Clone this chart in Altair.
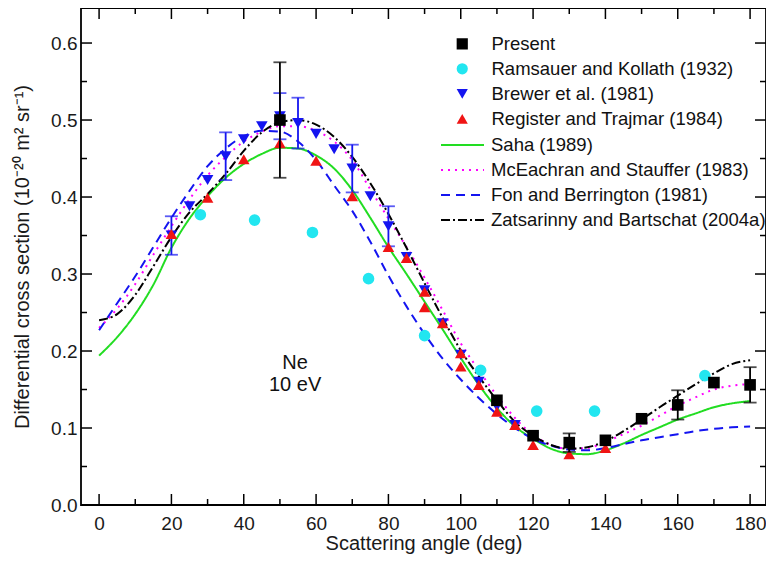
import altair as alt
import pandas as pd

# ---------------- data ----------------
curve_angles = list(range(0, 181, 5))
saha = [0.194, 0.218, 0.248, 0.286, 0.334, 0.372, 0.401, 0.425, 0.443, 0.456,
        0.464, 0.463, 0.454, 0.437, 0.409, 0.373, 0.335, 0.300, 0.264, 0.228,
        0.191, 0.156, 0.126, 0.102, 0.086, 0.073, 0.067, 0.066, 0.071, 0.080,
        0.091, 0.101, 0.111, 0.119, 0.127, 0.132, 0.135]
mceachran = [0.230, 0.255, 0.287, 0.325, 0.362, 0.397, 0.428, 0.452, 0.472, 0.485,
             0.492, 0.492, 0.486, 0.472, 0.448, 0.410, 0.372, 0.335, 0.295, 0.253,
             0.210, 0.175, 0.142, 0.113, 0.091, 0.078, 0.073, 0.074, 0.082, 0.092,
             0.103, 0.116, 0.129, 0.140, 0.150, 0.155, 0.157]
fon = [0.227, 0.262, 0.297, 0.335, 0.373, 0.408, 0.440, 0.463, 0.479, 0.486,
       0.485, 0.472, 0.448, 0.415, 0.382, 0.342, 0.298, 0.258, 0.222, 0.190,
       0.163, 0.139, 0.118, 0.100, 0.086, 0.077, 0.072, 0.071, 0.074, 0.079,
       0.084, 0.088, 0.092, 0.096, 0.099, 0.101, 0.102]
zatsarinny = [0.240, 0.248, 0.273, 0.310, 0.348, 0.380, 0.404, 0.430, 0.460, 0.484,
              0.497, 0.500, 0.494, 0.478, 0.452, 0.418, 0.378, 0.334, 0.288, 0.243,
              0.201, 0.167, 0.136, 0.108, 0.090, 0.078, 0.073, 0.075, 0.083, 0.096,
              0.111, 0.127, 0.142, 0.157, 0.171, 0.183, 0.188]

present_angle = [50, 110, 120, 130, 140, 150, 160, 170, 180]
present_dcs = [0.500, 0.136, 0.090, 0.081, 0.084, 0.112, 0.130, 0.159, 0.156]
present_err = [0.075, 0, 0, 0.012, 0, 0, 0.019, 0, 0.023]

ramsauer_angle = [28, 43, 59, 74.5, 90, 105.5, 121, 137, 167.5]
ramsauer_dcs = [0.377, 0.370, 0.354, 0.294, 0.220, 0.175, 0.122, 0.122, 0.168]

brewer_angle = [20, 25, 30, 35, 40, 45, 50, 55, 60, 65, 70, 75, 80, 85, 90,
                95, 100, 105, 110, 115, 120]
brewer_dcs = [0.350, 0.388, 0.422, 0.453, 0.475, 0.492, 0.505, 0.496, 0.482,
              0.462, 0.437, 0.401, 0.362, 0.322, 0.279, 0.236, 0.195, 0.160,
              0.128, 0.104, 0.088]
brewer_err = [0.025, 0, 0, 0.031, 0, 0, 0.030, 0.033, 0, 0, 0.031, 0, 0.026,
              0, 0, 0, 0, 0, 0, 0, 0]

register_angle = [20, 30, 40, 50, 60, 70, 80, 85, 90, 90, 95, 100, 100, 105,
                  110, 115, 120, 130, 140]
register_dcs = [0.352, 0.399, 0.449, 0.470, 0.447, 0.401, 0.335, 0.321, 0.277,
                0.257, 0.236, 0.197, 0.180, 0.156, 0.121, 0.104, 0.078, 0.066,
                0.074]

line_names = ["Saha (1989)", "McEachran and Stauffer (1983)",
              "Fon and Berrington (1981)", "Zatsarinny and Bartschat (2004a)"]
line_colors = ["#22DD22", "#FF00FF", "#1414F0", "#000000"]
line_dashes = [[1, 0], [2, 5], [9, 6], [9, 3, 2, 3]]

point_names = ["Present", "Ramsauer and Kollath (1932)", "Brewer et al. (1981)",
               "Register and Trajmar (1984)"]
point_colors = ["#000000", "#22E6F0", "#1414F0", "#F01414"]
point_shapes = ["square", "circle", "triangle-down", "triangle-up"]

label_text = ["Ne", "10 eV"]
label_angle = [54.2, 54.2]
label_dcs = [0.184, 0.156]

x_major = list(range(0, 181, 20))
x_minor = list(range(10, 171, 20))
y_major = [0.0, 0.1, 0.2, 0.3, 0.4, 0.5, 0.6]
y_minor = [0.05, 0.15, 0.25, 0.35, 0.45, 0.55]

# ---------------- tables ----------------
curves = pd.DataFrame({
    "angle": curve_angles * 4,
    "dcs": saha + mceachran + fon + zatsarinny,
    "model": sum([[n] * len(curve_angles) for n in line_names], []),
})

points = pd.concat([
    pd.DataFrame({"angle": ramsauer_angle, "dcs": ramsauer_dcs, "series": point_names[1]}),
    pd.DataFrame({"angle": brewer_angle, "dcs": brewer_dcs, "series": point_names[2]}),
    pd.DataFrame({"angle": register_angle, "dcs": register_dcs, "series": point_names[3]}),
    pd.DataFrame({"angle": present_angle, "dcs": present_dcs, "series": point_names[0]}),
], ignore_index=True)

def err_table(a, v, e):
    df = pd.DataFrame({"angle": a, "dcs": v, "err": e})
    df = df[df["err"] > 0].copy()
    df["lo"] = df["dcs"] - df["err"]
    df["hi"] = df["dcs"] + df["err"]
    return df

present_eb = err_table(present_angle, present_dcs, present_err)
brewer_eb = err_table(brewer_angle, brewer_dcs, brewer_err)
labels = pd.DataFrame({"angle": label_angle, "dcs": label_dcs, "text": label_text})

W, H = 685, 497
FONT = "Liberation Sans"

xscale = alt.Scale(domain=[-5, 184.4], nice=False, zero=False)
yscale = alt.Scale(domain=[0, 0.6455], nice=False, zero=False)
xaxis = alt.Axis(title="Scattering angle (deg)", values=x_major, format="d",
                 ticks=False, tickSize=0, domain=False, grid=False,
                 labelFlush=False, labelOverlap=False, labelPadding=9,
                 titlePadding=0)
yaxis = alt.Axis(title="Differential cross section (10\u207b\u00b2\u2070 m\u00b2 sr\u207b\u00b9)",
                 values=y_major, format=".1f", ticks=False, tickSize=0,
                 domain=False, grid=False, labelFlush=False,
                 labelOverlap=False, labelPadding=4, titlePadding=18)

def X(field):
    return alt.X(f"{field}:Q", scale=xscale, axis=xaxis)

def Y(field):
    return alt.Y(f"{field}:Q", scale=yscale, axis=yaxis)

line_legend = alt.Legend(orient="none", legendX=359, legendY=125.8, title=None,
                         padding=0, labelFontSize=18.5, labelFont=FONT,
                         labelColor="#111111", symbolType="stroke",
                         symbolSize=1849, symbolStrokeWidth=2, symbolOffset=0,
                         labelOffset=6, clipHeight=22.4, rowPadding=2,
                         labelLimit=400)
point_legend = alt.Legend(orient="none", legendX=359, legendY=24.5, title=None,
                          padding=0, labelFontSize=18.5, labelFont=FONT,
                          labelColor="#111111", symbolSize=125,
                          symbolStrokeWidth=0, symbolOffset=13, labelOffset=20,
                          clipHeight=22.6, rowPadding=2, labelLimit=400)

lines = alt.Chart(curves).mark_line(strokeWidth=2, interpolate="monotone").encode(
    x=X("angle"), y=Y("dcs"),
    stroke=alt.Stroke("model:N", scale=alt.Scale(domain=line_names, range=line_colors),
                      legend=line_legend),
    strokeDash=alt.StrokeDash("model:N", scale=alt.Scale(domain=line_names, range=line_dashes),
                              legend=line_legend),
)

def errbars(df, color):
    rule = alt.Chart(df).mark_rule(color=color, strokeWidth=1.8).encode(
        x=X("angle"), y=Y("lo"), y2="hi")
    cap_lo = alt.Chart(df).mark_tick(color=color, orient="horizontal", size=13,
                                     thickness=1.8).encode(x=X("angle"), y=Y("lo"))
    cap_hi = alt.Chart(df).mark_tick(color=color, orient="horizontal", size=13,
                                     thickness=1.8).encode(x=X("angle"), y=Y("hi"))
    return [rule, cap_lo, cap_hi]

pts = alt.Chart(points).mark_point(filled=True, size=135, opacity=1, strokeWidth=0).encode(
    x=X("angle"), y=Y("dcs"),
    color=alt.Color("series:N", scale=alt.Scale(domain=point_names, range=point_colors),
                    legend=point_legend),
    shape=alt.Shape("series:N", scale=alt.Scale(domain=point_names, range=point_shapes),
                    legend=point_legend),
)

txt = alt.Chart(labels).mark_text(font=FONT, fontSize=20, color="#111111",
                                  align="center", baseline="middle").encode(
    x=X("angle"), y=Y("dcs"), text="text:N")

# inward ticks on all four sides
def tick_df(vals):
    return pd.DataFrame({"t": vals})

tick_layers = []
for vals, ln in [(x_major, 11), (x_minor, 6)]:
    tick_layers.append(alt.Chart(tick_df(vals)).mark_rule(color="black", strokeWidth=1.5).encode(
        x=X("t"), y=alt.value(H), y2=alt.value(H - ln)))
    tick_layers.append(alt.Chart(tick_df(vals)).mark_rule(color="black", strokeWidth=1.5).encode(
        x=X("t"), y=alt.value(0), y2=alt.value(ln)))
for vals, ln in [(y_major, 11), (y_minor, 6)]:
    tick_layers.append(alt.Chart(tick_df(vals)).mark_rule(color="black", strokeWidth=1.5).encode(
        y=Y("t"), x=alt.value(0), x2=alt.value(ln)))
    tick_layers.append(alt.Chart(tick_df(vals)).mark_rule(color="black", strokeWidth=1.5).encode(
        y=Y("t"), x=alt.value(W), x2=alt.value(W - ln)))

layers = [lines] + errbars(brewer_eb, "#1414F0") + [pts] + errbars(present_eb, "#000000") + [txt] + tick_layers

chart = alt.layer(*layers).properties(
    width=W, height=H,
    autosize=alt.AutoSizeParams(type="none"),
    padding={"left": 73, "top": 0, "right": 0, "bottom": 51},
).configure_view(
    stroke="black", strokeWidth=1.8
).configure_axis(
    labelFont=FONT, titleFont=FONT, labelFontSize=19, titleFontSize=20,
    labelColor="#1a1a1a", titleColor="#1a1a1a", titleFontWeight="normal"
).configure_legend(
    labelFont=FONT
)

chart.save("out.html", embed_options={"renderer": "svg", "actions": False})
